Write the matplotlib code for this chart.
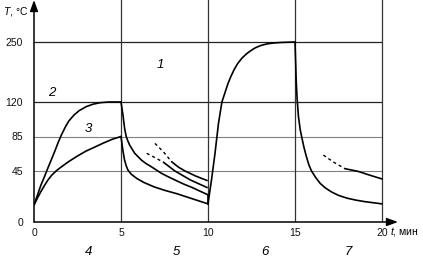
import numpy as np
import matplotlib
matplotlib.use("Agg")
import matplotlib.pyplot as plt

plt.rcParams['font.family'] = ['Liberation Sans', 'DejaVu Sans']
plt.rcParams['mathtext.fontset'] = 'custom'
plt.rcParams['mathtext.it'] = 'Liberation Sans:italic'
plt.rcParams['mathtext.rm'] = 'Liberation Sans'

# heating 0-5 min
heat2_t = [0, 0.2, 0.4, 0.6, 0.8, 1.0, 1.2, 1.4, 1.6, 1.8, 2.0, 2.3, 2.6, 3.0, 3.4, 3.8, 4.3, 5.0]
heat2_T = [15, 23.8, 32.6, 40, 48.5, 58.3, 68.2, 78.6, 87.5, 94.6, 100.7, 106.8, 111.3, 115.3,
           117.8, 119.3, 120, 120]
heat3_t = [0, 0.2, 0.4, 0.6, 0.8, 1.0, 1.3, 1.6, 2.0, 2.5, 3.0, 3.5, 4.0, 4.5, 5.0]
heat3_T = [15, 21.2, 26.9, 32.2, 37, 41, 45.6, 50.2, 56, 62.4, 68.2, 72.8, 77.5, 81.8, 85]

# cooling 5-10 min
cool2_t = [5.0, 5.11, 5.21, 5.3, 5.4, 5.5, 5.65, 5.79, 6.17, 6.45, 6.74, 7.32, 7.7, 8.18,
           8.6, 9.08, 9.5, 10.0, 10.0]
cool2_T = [120, 107, 93, 85, 79.5, 75, 70, 65.5, 57.7, 53.5, 50, 43, 40, 36.5,
           33.5, 30.5, 27.5, 24, 16]
cool3_t = [5.0, 5.1, 5.2, 5.3, 5.4, 5.6, 5.9, 6.3, 6.9, 7.5, 8.2, 9.1, 10.0]
cool3_T = [85, 70, 58, 51, 46, 42, 38.5, 35, 31, 28, 25, 20.5, 16]
dashA_t = [6.95, 7.43, 7.91]
dashA_T = [77, 67.4, 55.8]
solidA_t = [7.91, 8.3, 8.68, 9.3, 9.95]
solidA_T = [55.8, 49.5, 45, 40.5, 36.6]
dashB_t = [6.48, 7.0, 7.45]
dashB_T = [65.5, 60, 55]
solidB_t = [7.45, 8.1, 9.0, 9.95]
solidB_T = [55, 45, 37, 30.4]

# heating 10-15 min
heat6_t = [10.0, 10.2, 10.4, 10.6, 10.8, 11.0, 11.15, 11.3, 11.5, 11.7, 11.95, 12.2, 12.45,
           12.7, 13.0, 13.4, 13.8, 14.2, 14.6, 15.0]
heat6_T = [16, 37, 65, 98, 120, 143, 160, 174, 190, 203, 215, 224, 231,
           237, 242, 246, 248, 249, 249.5, 250]

# cooling 15-20 min
cool7_t = [15.0, 15.03, 15.07, 15.12, 15.2, 15.3, 15.4, 15.52, 15.65, 15.8, 15.95, 16.2,
           16.45, 16.75, 17.1, 17.5, 18.0, 18.5, 19.0, 19.5, 20.0]
cool7_T = [250, 215, 165, 128, 105, 92, 83, 72, 62, 52, 45, 39, 34, 30,
           26.5, 23.5, 21, 19.3, 18, 17, 16]
dash7_t = [16.63, 17.2, 17.87]
dash7_T = [63.5, 55.5, 47.7]
solid7_t = [17.87, 18.62, 19.3, 20.0]
solid7_T = [47.7, 44.7, 41.3, 38]

x_ticks = [0, 5, 10, 15, 20]
y_ticks = [0, 45, 85, 120, 250]

curve_labels = ['1', '2', '3']
curve_label_pos = [(7.24, 200), (1.03, 139), (3.12, 93)]
stage_labels = ['4', '5', '6', '7']
stage_label_x = [3.16, 8.2, 13.28, 18.05]

# non-uniform temperature axis, as in the original figure
T_knots = [0, 45, 85, 120, 250, 400]
P_knots = [0, 51, 85.5, 120, 180, 249.2]


def fwd(y):
    return np.interp(y, T_knots, P_knots)


def inv(p):
    return np.interp(p, P_knots, T_knots)


fig = plt.figure(figsize=(4.23, 2.59), dpi=100)
ax = fig.add_axes([34 / 423, 37 / 259, 364 / 423, 222 / 259])
ax.set_yscale('function', functions=(fwd, inv))
ax.set_xlim(0, 20.92)
ax.set_ylim(0, inv(222))

for s in ax.spines.values():
    s.set_visible(False)

# grid
for y in [45, 85]:
    ax.hlines(y, 0, 20, color='#808080', lw=0.8)
for y in [120, 250]:
    ax.hlines(y, 0, 20, color='#222222', lw=0.9)
for x in [5, 10, 15, 20]:
    ax.axvline(x, color='#333333', lw=0.9)

# axes with arrows
arr = dict(arrowstyle='-|>,head_length=0.55,head_width=0.2', color='black',
           lw=1.1, shrinkA=0, shrinkB=0, mutation_scale=12)
ax.annotate('', xy=(0, 1), xytext=(0, 0), xycoords='axes fraction', arrowprops=arr)
ax.annotate('', xy=(1, 0), xytext=(0, 0), xycoords='axes fraction', arrowprops=arr)

kw = dict(color='black', lw=1.2, solid_capstyle='round', solid_joinstyle='round')
dkw = dict(color='black', lw=1.0, linestyle=(0, (2.2, 2.2)))
ax.plot(heat2_t, heat2_T, **kw)
ax.plot(heat3_t, heat3_T, **kw)
ax.plot(cool2_t, cool2_T, **kw)
ax.plot(cool3_t, cool3_T, **kw)
ax.plot(dashA_t, dashA_T, **dkw)
ax.plot(solidA_t, solidA_T, **kw)
ax.plot(dashB_t, dashB_T, **dkw)
ax.plot(solidB_t, solidB_T, **kw)
ax.plot(heat6_t, heat6_T, **kw)
ax.plot(cool7_t, cool7_T, **kw)
ax.plot(dash7_t, dash7_T, **dkw)
ax.plot(solid7_t, solid7_T, **kw)

ax.set_xticks(x_ticks)
ax.set_xticklabels([str(v) for v in x_ticks])
ax.set_yticks(y_ticks)
ax.set_yticklabels([str(v) for v in y_ticks])
ax.tick_params(length=0, labelsize=7.5, colors='#111111')
ax.tick_params(axis='y', pad=8)
ax.tick_params(axis='x', pad=4)

for lab, (x, y) in zip(curve_labels, curve_label_pos):
    ax.text(x, y, lab, fontsize=9.5, style='italic', ha='center', va='center')
for lab, x in zip(stage_labels, stage_label_x):
    ax.text(x, -0.135, lab, fontsize=9.5, style='italic', ha='center', va='center',
            transform=ax.get_xaxis_transform())

fig.text(3 / 423, 1 - 12 / 259, r'$T$, °C', fontsize=7.5, ha='left', va='center')
fig.text(390 / 423, 1 - 232 / 259, r'$t$, мин', fontsize=7.5, ha='left', va='center')

fig.savefig('out.png', dpi=100)
